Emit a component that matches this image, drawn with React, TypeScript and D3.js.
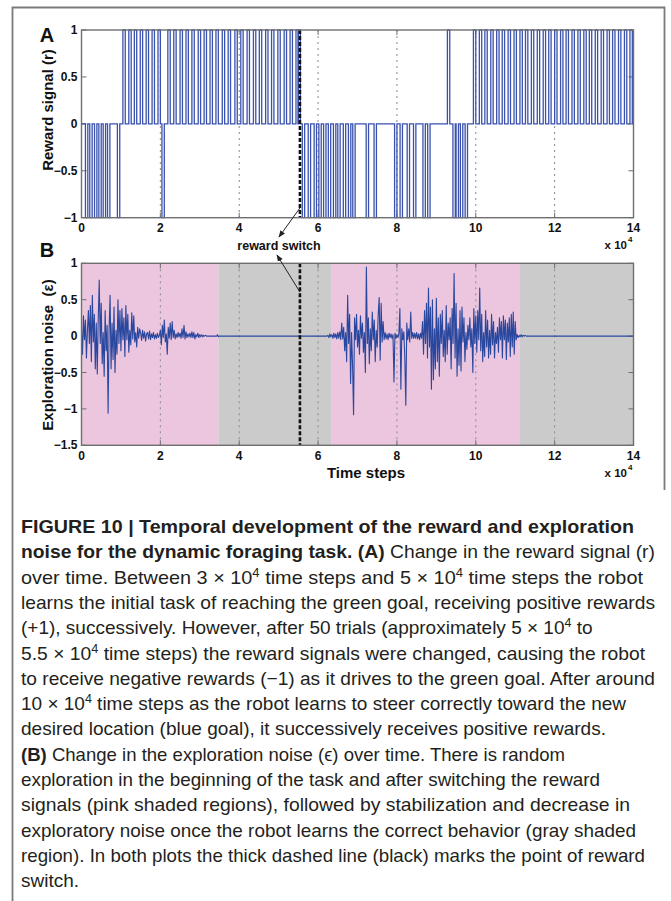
import React from 'react';
import * as d3 from 'd3';

const W = 671;
const H = 901;

// Time axis in units of 10^4 steps
const xTicks = [0, 2, 4, 6, 8, 10, 12, 14];
const gridTicks = [2, 4, 6, 8, 10, 12];
const rewardYTicks = [1, 0.5, 0, -0.5, -1];
const noiseYTicks = [1, 0.5, 0, -0.5, -1, -1.5];
const rewardSwitchAt = 5.54;

// Reward pulse onsets (x 10^4 time steps)
const negativeBefore = [0.1, 0.21, 0.33, 0.44, 0.55, 0.66, 0.91, 2.04];
const positiveBefore = [
  1.05, 1.2, 1.34, 1.49, 1.64, 1.79, 1.94,
  2.19, 2.34, 2.5, 2.65, 2.8, 2.96, 3.11, 3.26, 3.41, 3.57, 3.72, 3.89,
  4.04, 4.2, 4.36, 4.51, 4.67, 4.82, 4.98, 5.14, 5.29, 5.44, 5.49,
];
const negativeAfter = [
  5.6, 5.75, 5.9, 6.02, 6.14, 6.26, 6.39, 6.5, 6.64, 6.77, 6.88,
  7.22, 7.42, 7.94, 8.08, 8.26, 8.42, 8.66, 8.78, 9.42, 9.5, 9.61, 9.73,
];
const positiveAfter = [
  9.28, 9.94, 10.09, 10.23, 10.38, 10.53, 10.67, 10.82, 10.97, 11.12, 11.26,
  11.41, 11.56, 11.71, 11.85, 12.0, 12.15, 12.29, 12.44, 12.59, 12.74,
  12.88, 13.03, 13.18, 13.33, 13.47, 13.62, 13.77, 13.91,
];
const pulseDuration = 0.06;

// Shaded phases of panel B
const pinkSpans: [number, number][] = [[0, 3.47], [6.33, 11.12]];
const graySpans: [number, number][] = [[3.47, 6.33], [11.12, 14]];

// Exploration noise samples, every 0.025 x 10^4 steps
const noiseStep = 0.025;
const noiseEarlyStart = 0;
const noiseEarly = [
  0.10, -0.25, 0.28, -0.05, 0.22, -0.30, 0.08, 0.35, -0.10, 0.42, -0.35, 0.56, -0.08, 0.30, -0.45, 0.18, -0.52, 0.25,
  0.77, -0.10, 0.45, -0.38, 0.05, -0.55, 0.35, -0.20, 0.15, -1.06,
  0.10, 0.56, -0.45, 0.18, -0.32, 0.40, -0.50, 0.08, -0.25, 0.50, -0.10, 0.35,
  -0.20, 0.38, -0.05, 0.25, -0.28, 0.42, -0.05, 0.30, -0.22, 0.08, -0.12, 0.32,
  -0.04, 0.28, -0.08, 0.05, -0.15, 0.12, -0.03, 0.10,
  0.04, -0.06, 0.08, -0.03, 0.06, -0.07, 0.03, 0.05, -0.04, 0.07, -0.05, 0.03, -0.02, 0.05, -0.04, 0.02, -0.03, 0.04, -0.02, 0.01,
  0.08, -0.12, 0.15, -0.02, 0.22, -0.08, 0.03, -0.25, 0.12, -0.03, 0.18, -0.05, 0.20, -0.02, 0.08, -0.04,
  0.03, -0.02, 0.05, -0.01, 0.04, -0.03, 0.10, -0.02, 0.15, -0.04, 0.06, -0.02, 0.03, -0.01, 0.04, -0.02,
  0.06, -0.02, 0.05, -0.04, 0.02, -0.01, 0.04, -0.02, 0.02, -0.01, 0.02, -0.01, 0.01, 0.0, 0.01, 0.0,
];
// Quiet stretch between the two exploration phases
const noiseQuiet: [number, number][] = [
  [3.2, 0], [3.43, 0], [3.45, 0.02], [3.47, -0.01], [3.49, 0], [6.225, 0],
];
const noiseLateStart = 6.25;
const noiseLate = [
  0.01, -0.02, 0.03, -0.01, 0.02, -0.03, 0.04, -0.02, 0.03, -0.04, 0.05, -0.03, 0.06, -0.05,
  0.18, -0.04, 0.12, -0.20, 0.05, -0.35, 0.56, -0.10, 0.30, -0.65, 0.05, -0.40, -1.08, 0.25,
  -0.05, 0.30, -0.15, 0.08, -0.25, 0.28, -0.03, 0.18, -0.22, 0.05,
  -0.50, 0.95, -0.10, 0.25, -0.38, 0.10, -0.20, 0.33, -0.05, 0.22, -0.35, 0.08,
  -0.15, 0.30, 0.53, -0.33, 0.45, -0.08, 0.20, -0.05,
  0.05, -0.04, 0.03, -0.05, 0.04, -0.02, 0.03, -0.03, 0.02, -0.63,
  0.04, -0.03, 0.02, -0.02, 0.03, 0.38, -0.73, 0.10, -0.05, 0.06,
  -0.30, -0.95, 0.18, -0.05, 0.10, -0.08, 0.33, -0.03, 0.05, -0.03,
  0.04, -0.03, 0.05, -0.04, 0.03, -0.05, 0.04, -0.03,
  0.20, -0.25, 0.35, -0.10, 0.45, -0.30, 0.66, -0.15, 0.40, -0.73, 0.50, -0.60, 0.10, -0.45, 0.52, -0.35, 0.25, -0.55,
  0.30, -0.10, 0.35, -0.28, 0.08, -0.35, 0.42, -0.25, 0.18, -0.05, 0.25, -0.45, 0.38, -0.10,
  0.86, -0.30, 0.45, -0.55, 0.10, -0.40, 0.35, -0.48, 0.40, -0.08, 0.25, -0.35, 0.05, -0.18,
  0.15, -0.05, 0.25, -0.15, 0.10, -0.50, 0.38, -0.10, 0.28, -0.22, 0.35, -0.05,
  0.66, -0.20, 0.30, -0.35, 0.05, -0.28, 0.35, -0.15, 0.22, -0.30, 0.08, -0.25, 0.30, -0.12,
  0.20, -0.30, 0.05, -0.10, 0.12, -0.22, 0.25, -0.05, 0.20, -0.30,
  0.28, -0.05, 0.22, -0.32, 0.18, -0.08, 0.25, -0.28, 0.30, -0.15, 0.33, -0.25, 0.20, -0.05,
  0.02, -0.02, 0.01, -0.01, 0.02, -0.01, 0.01, 0.0, 0.01, 0.0,
];
const noiseTail: [number, number][] = [[11.3, 0], [14, 0]];

type Seg = { t: string; b?: boolean; sup?: boolean };
const captionLines: Seg[][] = [
  [{ t: 'FIGURE 10 | Temporal development of the reward and exploration', b: true }],
  [{ t: 'noise for the dynamic foraging task. (A)', b: true }, { t: ' Change in the reward signal (r)' }],
  [{ t: 'over time. Between 3 × 10' }, { t: '4', sup: true }, { t: ' time steps and 5 × 10' }, { t: '4', sup: true }, { t: ' time steps the robot' }],
  [{ t: 'learns the initial task of reaching the green goal, receiving positive rewards' }],
  [{ t: '(+1), successively. However, after 50 trials (approximately 5 × 10' }, { t: '4', sup: true }, { t: ' to' }],
  [{ t: '5.5 × 10' }, { t: '4', sup: true }, { t: ' time steps) the reward signals were changed, causing the robot' }],
  [{ t: 'to receive negative rewards (−1) as it drives to the green goal. After around' }],
  [{ t: '10 × 10' }, { t: '4', sup: true }, { t: ' time steps as the robot learns to steer correctly toward the new' }],
  [{ t: 'desired location (blue goal), it successively receives positive rewards.' }],
  [{ t: '(B)', b: true }, { t: ' Change in the exploration noise (ϵ) over time. There is random' }],
  [{ t: 'exploration in the beginning of the task and after switching the reward' }],
  [{ t: 'signals (pink shaded regions), followed by stabilization and decrease in' }],
  [{ t: 'exploratory noise once the robot learns the correct behavior (gray shaded' }],
  [{ t: 'region). In both plots the thick dashed line (black) marks the point of reward' }],
  [{ t: 'switch.' }],
];
// Line right edges; null keeps the natural width
const captionLineEnds: (number | null)[] = [634, 655, 643, 655, null, 645, 655, 626, 606, 565, 600, 630, 636, 645, null];

const FONT = '"Liberation Sans", Arial, Helvetica, sans-serif';
const BLUE = '#3a52ad';
const NOISE_BLUE = '#2a479e';
const FRAME = '#6f6f6f';

function fmt(v: number) {
  const s = String(Math.abs(v));
  return v < 0 ? '\u2212' + s : s;
}

export default function App() {
  const x = d3.scaleLinear().domain([0, 14]).range([81.5, 633.5]);
  const yA = d3.scaleLinear().domain([-1, 1]).range([217.7, 30]);
  const yB = d3.scaleLinear().domain([-1.5, 1]).range([445.3, 263.3]);

  // Reward signal as a step trace: 0 baseline with short ±1 pulses
  const pulses = [
    ...negativeBefore.map((s) => ({ s, v: -1 })),
    ...positiveBefore.map((s) => ({ s, v: 1 })),
    ...negativeAfter.map((s) => ({ s, v: -1 })),
    ...positiveAfter.map((s) => ({ s, v: 1 })),
  ].sort((a, b) => a.s - b.s);
  const rewardPts: [number, number][] = [[0, 0]];
  pulses.forEach((p) => {
    rewardPts.push([p.s, 0], [p.s, p.v], [p.s + pulseDuration, p.v], [p.s + pulseDuration, 0]);
  });
  rewardPts.push([14, 0]);
  const rewardLine = d3
    .line<[number, number]>()
    .x((d) => x(d[0]))
    .y((d) => yA(d[1]));

  const noisePts: [number, number][] = [
    ...noiseEarly.map((v, i) => [noiseEarlyStart + i * noiseStep, v] as [number, number]),
    ...noiseQuiet,
    ...noiseLate.map((v, i) => [noiseLateStart + i * noiseStep, v] as [number, number]),
    ...noiseTail,
  ];
  const noiseLine = d3
    .line<[number, number]>()
    .x((d) => x(d[0]))
    .y((d) => yB(d[1]));

  const [ax0, ax1] = x.range();
  const tickLen = 5;

  const frame = (y: d3.ScaleLinear<number, number>, yTicks: number[], key: string) => {
    const [yb, yt] = y.range();
    return (
      <g key={key}>
        {gridTicks.map((t) => (
          <line key={'g' + t} x1={x(t)} x2={x(t)} y1={yt} y2={yb} stroke="#8a8a8a" strokeWidth={1} strokeDasharray="2,4" />
        ))}
        {xTicks.map((t) => (
          <g key={'xt' + t}>
            <line x1={x(t)} x2={x(t)} y1={yb} y2={yb - tickLen} stroke={FRAME} />
            <line x1={x(t)} x2={x(t)} y1={yt} y2={yt + tickLen} stroke={FRAME} />
          </g>
        ))}
        {yTicks.map((t) => (
          <g key={'yt' + t}>
            <line x1={ax0} x2={ax0 + tickLen} y1={y(t)} y2={y(t)} stroke={FRAME} />
            <line x1={ax1} x2={ax1 - tickLen} y1={y(t)} y2={y(t)} stroke={FRAME} />
          </g>
        ))}
      </g>
    );
  };

  const axisLabels = (y: d3.ScaleLinear<number, number>, yTicks: number[], labelY: number) => (
    <g fontFamily={FONT} fontWeight="bold" fontSize={12} fill="#111">
      {xTicks.map((t) => (
        <text key={'xl' + t} x={x(t)} y={labelY} textAnchor="middle">
          {t}
        </text>
      ))}
      {yTicks.map((t) => (
        <text key={'yl' + t} x={77.5} y={y(t) + 4} textAnchor="end">
          {fmt(t)}
        </text>
      ))}
    </g>
  );

  const renderCaptionLine = (segs: Seg[], i: number) => {
    const baseY = 533 + i * 25.3;
    const children: React.ReactNode[] = [];
    let shifted = false;
    segs.forEach((s, j) => {
      if (s.sup) {
        children.push(
          <tspan key={j} dy={-7} fontSize={12.5}>
            {s.t}
          </tspan>
        );
        shifted = true;
      } else {
        children.push(
          <tspan key={j} dy={shifted ? 7 : undefined} fontWeight={s.b ? 'bold' : 'normal'}>
            {s.t}
          </tspan>
        );
        shifted = false;
      }
    });
    const end = captionLineEnds[i];
    const fit = end == null ? {} : { textLength: end - 21, lengthAdjust: 'spacingAndGlyphs' };
    return (
      <text key={i} x={21} y={baseY} {...fit} style={{ whiteSpace: 'pre' }}>
        {children}
      </text>
    );
  };

  return (
    <svg width={W} height={H} viewBox={`0 0 ${W} ${H}`} style={{ display: 'block', position: 'absolute', left: 0, top: 0, background: '#fff' }}>
      <rect x={0} y={0} width={W} height={H} fill="#fff" />
      {/* Figure box */}
      <path d={`M12.5,${H} V7.5 H664.5 V490`} fill="none" stroke="#7a7a7a" strokeWidth={1.8} />

      {/* Panel A: reward signal */}
      <rect x={ax0} y={30} width={ax1 - ax0} height={217.7 - 30} fill="#fff" />
      {frame(yA, rewardYTicks, 'fa')}
      <path d={rewardLine(rewardPts) || ''} fill="none" stroke={BLUE} strokeWidth={1.3} />
      <line x1={x(rewardSwitchAt)} x2={x(rewardSwitchAt)} y1={30} y2={217.7} stroke="#111" strokeWidth={2.6} strokeDasharray="4,2" />
      <rect x={ax0} y={30} width={ax1 - ax0} height={217.7 - 30} fill="none" stroke={FRAME} strokeWidth={1.4} />
      {axisLabels(yA, rewardYTicks, 232)}
      <text x={47} y={42} fontFamily={FONT} fontWeight="bold" fontSize={20} textAnchor="middle" fill="#111">A</text>
      <text transform="translate(53,110) rotate(-90)" fontFamily={FONT} fontWeight="bold" fontSize={15} textAnchor="middle" fill="#111">
        Reward signal (r)
      </text>
      <text x={627} y={249} fontFamily={FONT} fontWeight="bold" fontSize={11.5} textAnchor="end" fill="#111">x 10</text>
      <text x={628} y={242} fontFamily={FONT} fontWeight="bold" fontSize={8} fill="#111">4</text>

      {/* Panel B: exploration noise */}
      {pinkSpans.map(([a, b], i) => (
        <rect key={'p' + i} x={x(a)} y={263.3} width={x(b) - x(a)} height={445.3 - 263.3} fill="#ebc6de" />
      ))}
      {graySpans.map(([a, b], i) => (
        <rect key={'s' + i} x={x(a)} y={263.3} width={x(b) - x(a)} height={445.3 - 263.3} fill="#cbcbcb" />
      ))}
      {frame(yB, noiseYTicks, 'fb')}
      <path d={noiseLine(noisePts) || ''} fill="none" stroke={NOISE_BLUE} strokeWidth={1.1} strokeLinejoin="round" />
      <line x1={x(rewardSwitchAt)} x2={x(rewardSwitchAt)} y1={263.3} y2={445.3} stroke="#111" strokeWidth={2.6} strokeDasharray="4,2" />
      <rect x={ax0} y={263.3} width={ax1 - ax0} height={445.3 - 263.3} fill="none" stroke={FRAME} strokeWidth={1.4} />
      {axisLabels(yB, noiseYTicks, 460)}
      <text x={47} y={257} fontFamily={FONT} fontWeight="bold" fontSize={20} textAnchor="middle" fill="#111">B</text>
      <text transform="translate(53,355) rotate(-90)" fontFamily={FONT} fontWeight="bold" fontSize={15} textAnchor="middle" fill="#111" style={{ whiteSpace: 'pre' }}>
        Exploration noise  (ε)
      </text>
      <text x={366} y={478} fontFamily={FONT} fontWeight="bold" fontSize={15} textAnchor="middle" fill="#111">
        Time steps
      </text>
      <text x={627} y={477} fontFamily={FONT} fontWeight="bold" fontSize={11.5} textAnchor="end" fill="#111">x 10</text>
      <text x={628} y={470} fontFamily={FONT} fontWeight="bold" fontSize={8} fill="#111">4</text>

      {/* Reward switch annotation */}
      <defs>
        <marker id="ah" viewBox="0 0 10 10" refX={9} refY={5} markerWidth={7} markerHeight={7} orient="auto-start-reverse">
          <path d="M0,1 L10,5 L0,9 z" fill="#222" />
        </marker>
      </defs>
      <text x={279} y={250} fontFamily={FONT} fontWeight="bold" fontSize={12.5} textAnchor="middle" fill="#111">
        reward switch
      </text>
      <line x1={x(rewardSwitchAt)} y1={208} x2={279} y2={237} stroke="#222" strokeWidth={1} markerEnd="url(#ah)" />
      <line x1={x(rewardSwitchAt)} y1={292} x2={277} y2={255} stroke="#222" strokeWidth={1} markerEnd="url(#ah)" />

      {/* Caption */}
      <g fontFamily={FONT} fontSize={19} fill="#231f20">
        {captionLines.map(renderCaptionLine)}
      </g>
    </svg>
  );
}
